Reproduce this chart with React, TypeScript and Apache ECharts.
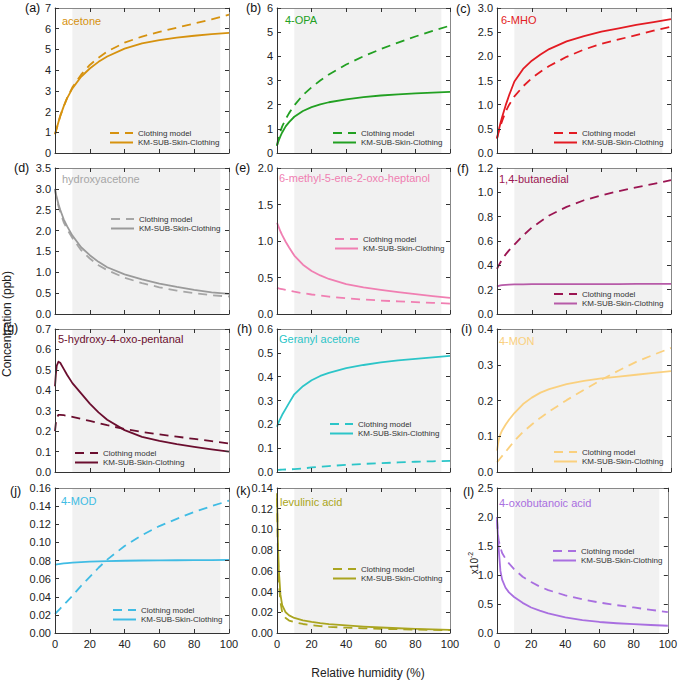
import React, { useEffect, useRef } from 'react';
import * as echarts from 'echarts';

// ---------------- DATA ----------------
const RH = [0, 0.5, 1, 2, 3, 5, 7, 10, 15, 20, 25, 30, 40, 50, 60, 70, 80, 90, 100];
const X_TICKS = [0, 20, 40, 60, 80, 100];
const SHADE_RH = [10, 95];

const COMPOUNDS = ['acetone', '4-OPA', '6-MHO', 'hydroxyacetone', '6-methyl-5-ene-2-oxo-heptanol', '1,4-butanedial',
  '5-hydroxy-4-oxo-pentanal', 'Geranyl acetone', '4-MON', '4-MOD', 'levulinic acid', '4-oxobutanoic acid'];
const LETTERS = ['(a)', '(b)', '(c)', '(d)', '(e)', '(f)', '(g)', '(h)', '(i)', '(j)', '(k)', '(l)'];
const SERIES_NAMES = ['Clothing model', 'KM-SUB-Skin-Clothing'];
const Y_MAX = [7, 6, 3, 3.5, 2, 1.2, 0.7, 0.6, 0.4, 0.16, 0.14, 2.5];
const Y_STEP = [1, 1, 0.5, 0.5, 0.5, 0.2, 0.1, 0.1, 0.1, 0.02, 0.02, 0.5];
const Y_DEC = [0, 0, 1, 1, 1, 1, 1, 1, 1, 2, 2, 1];

const acetoneClothing = [0.9, 1.05, 1.2, 1.5, 1.78, 2.25, 2.67, 3.17, 3.78, 4.25, 4.6, 4.9, 5.33, 5.62, 5.85, 6.05, 6.25, 6.45, 6.68];
const acetoneKM = [0.9, 1.05, 1.2, 1.5, 1.78, 2.25, 2.65, 3.12, 3.68, 4.08, 4.4, 4.66, 5.04, 5.29, 5.45, 5.57, 5.66, 5.74, 5.8];
const opaClothing = [0.3, 0.5, 0.65, 0.9, 1.1, 1.4, 1.65, 1.97, 2.4, 2.72, 3.0, 3.25, 3.66, 4.0, 4.3, 4.57, 4.82, 5.05, 5.27];
const opaKM = [0.3, 0.42, 0.52, 0.7, 0.85, 1.1, 1.28, 1.5, 1.74, 1.9, 2.01, 2.1, 2.22, 2.31, 2.38, 2.43, 2.47, 2.5, 2.53];
const mhoClothing = [0.3, 0.37, 0.44, 0.56, 0.67, 0.86, 1.0, 1.17, 1.38, 1.55, 1.68, 1.8, 1.99, 2.14, 2.26, 2.35, 2.44, 2.53, 2.61];
const mhoKM = [0.3, 0.39, 0.47, 0.62, 0.75, 0.99, 1.2, 1.48, 1.74, 1.91, 2.04, 2.15, 2.31, 2.42, 2.51, 2.58, 2.65, 2.71, 2.77];
const hydroxyClothing = [3.0, 2.85, 2.75, 2.58, 2.45, 2.2, 2.03, 1.82, 1.53, 1.33, 1.17, 1.05, 0.87, 0.74, 0.64, 0.56, 0.5, 0.45, 0.42];
const hydroxyKM = [3.0, 2.88, 2.8, 2.63, 2.5, 2.27, 2.1, 1.88, 1.6, 1.41, 1.25, 1.12, 0.95, 0.83, 0.73, 0.65, 0.58, 0.52, 0.48];
const methylClothing = [0.36, 0.355, 0.35, 0.345, 0.34, 0.33, 0.32, 0.305, 0.285, 0.267, 0.252, 0.238, 0.215, 0.198, 0.184, 0.173, 0.163, 0.153, 0.143];
const methylKM = [1.25, 1.22, 1.19, 1.13, 1.08, 0.99, 0.91, 0.8, 0.675, 0.59, 0.528, 0.48, 0.41, 0.365, 0.33, 0.3, 0.272, 0.245, 0.22];
const butanedialClothing = [0.37, 0.385, 0.4, 0.425, 0.45, 0.49, 0.525, 0.57, 0.645, 0.71, 0.76, 0.81, 0.88, 0.935, 0.975, 1.01, 1.04, 1.07, 1.1];
const butanedialKM = [0.225, 0.228, 0.231, 0.235, 0.237, 0.24, 0.241, 0.243, 0.244, 0.245, 0.245, 0.245, 0.246, 0.246, 0.246, 0.246, 0.247, 0.247, 0.247];
const hydroxyPentanalClothing = [0.2, 0.24, 0.265, 0.28, 0.28, 0.278, 0.275, 0.27, 0.26, 0.25, 0.24, 0.229, 0.21, 0.196, 0.184, 0.173, 0.162, 0.151, 0.14];
const hydroxyPentanalKM = [0.42, 0.48, 0.52, 0.54, 0.535, 0.505, 0.475, 0.435, 0.385, 0.335, 0.292, 0.256, 0.205, 0.172, 0.152, 0.136, 0.123, 0.111, 0.1];
const geranylClothing = [0.008, 0.0085, 0.009, 0.0095, 0.01, 0.0105, 0.011, 0.012, 0.015, 0.019, 0.022, 0.025, 0.03, 0.034, 0.037, 0.04, 0.043, 0.045, 0.047];
const geranylKM = [0.19, 0.2, 0.21, 0.225, 0.24, 0.265, 0.29, 0.326, 0.36, 0.385, 0.403, 0.416, 0.436, 0.449, 0.46, 0.468, 0.475, 0.481, 0.487];
const monClothing = [0.027, 0.03, 0.033, 0.039, 0.045, 0.057, 0.069, 0.087, 0.112, 0.133, 0.152, 0.169, 0.201, 0.23, 0.258, 0.284, 0.308, 0.328, 0.347];
const monKM = [0.06, 0.075, 0.09, 0.106, 0.117, 0.133, 0.147, 0.165, 0.19, 0.208, 0.222, 0.232, 0.246, 0.255, 0.262, 0.267, 0.272, 0.277, 0.282];
const modClothing = [0.021, 0.022, 0.023, 0.025, 0.027, 0.031, 0.035, 0.041, 0.052, 0.062, 0.072, 0.081, 0.096, 0.108, 0.118, 0.126, 0.1335, 0.14, 0.146];
const modKM = [0.0752, 0.0755, 0.0757, 0.076, 0.0763, 0.0768, 0.0772, 0.0777, 0.0783, 0.0787, 0.079, 0.0793, 0.0797, 0.08, 0.0802, 0.0803, 0.0804, 0.0805, 0.0806];
const levulinicClothing = [0.13, 0.08, 0.05, 0.03, 0.02, 0.0145, 0.012, 0.0105, 0.0087, 0.0075, 0.0067, 0.006, 0.0051, 0.0045, 0.004, 0.0037, 0.0033, 0.003, 0.0027];
const levulinicKM = [0.135, 0.09, 0.062, 0.037, 0.027, 0.02, 0.017, 0.0145, 0.0122, 0.0107, 0.0095, 0.0086, 0.0073, 0.0062, 0.0053, 0.0046, 0.004, 0.0035, 0.003];
const oxobutanoicClothing = [1.95, 1.72, 1.6, 1.47, 1.38, 1.28, 1.2, 1.1, 0.97, 0.88, 0.8, 0.74, 0.65, 0.58, 0.525, 0.48, 0.44, 0.4, 0.36];
const oxobutanoicKM = [2.0, 1.7, 1.45, 1.07, 0.92, 0.78, 0.7, 0.62, 0.52, 0.44, 0.385, 0.34, 0.27, 0.222, 0.19, 0.168, 0.152, 0.138, 0.125];

const CLOTHING = [acetoneClothing, opaClothing, mhoClothing, hydroxyClothing, methylClothing, butanedialClothing,
  hydroxyPentanalClothing, geranylClothing, monClothing, modClothing, levulinicClothing, oxobutanoicClothing];
const KMSUB = [acetoneKM, opaKM, mhoKM, hydroxyKM, methylKM, butanedialKM,
  hydroxyPentanalKM, geranylKM, monKM, modKM, levulinicKM, oxobutanoicKM];

// ---------------- LAYOUT / STYLE ----------------
const COL_LEFT = [55, 277, 497];
const COL_W = [174, 173, 174];
const ROW_TOP = [8, 168, 329, 488];
const ROW_H = [145, 146, 143, 145];
const COLORS = [
  { c: '#d6920f', k: '#d6920f', t: '#d6920f' },
  { c: '#22a022', k: '#22a022', t: '#22a022' },
  { c: '#e31b23', k: '#e31b23', t: '#e31b23' },
  { c: '#a6a6a6', k: '#9a9a9a', t: '#a6a6a6' },
  { c: '#f07fb2', k: '#f07fb2', t: '#f07fb2' },
  { c: '#9b1552', k: '#b75ba8', t: '#9b1552' },
  { c: '#6b0e2f', k: '#6b0e2f', t: '#6b0e2f' },
  { c: '#2cc5c8', k: '#2cc5c8', t: '#2cc5c8' },
  { c: '#fad07e', k: '#fad07e', t: '#fad07e' },
  { c: '#40bce4', k: '#40bce4', t: '#40bce4' },
  { c: '#aaa520', k: '#aaa520', t: '#aaa520' },
  { c: '#a96fe0', k: '#a96fe0', t: '#a96fe0' },
];
const LEGEND_POS = [[109, 133], [332, 133], [553, 133], [110, 219], [334, 239], [553, 294],
  [74, 453], [329, 424], [553, 452], [112, 610], [332, 569], [552, 551]];
const TITLE_POS = [[62, 21], [285, 20], [501, 20], [62, 179], [279, 178], [499, 179],
  [58, 339], [279, 339], [499, 341], [61, 501], [280, 502], [499, 503]];
const LETTER_POS = [[25, 8], [246, 8], [456, 9], [14, 168], [235, 168], [457, 169],
  [3, 328], [237, 329], [461, 329], [10, 491], [236, 491], [463, 492]];
const FONT = 'Liberation Sans';

function buildOption() {
  const grid: any[] = [];
  const xAxis: any[] = [];
  const yAxis: any[] = [];
  const series: any[] = [];
  const legend: any[] = [];
  const graphic: any[] = [];

  COMPOUNDS.forEach((name, i) => {
    const r = Math.floor(i / 3);
    const c = i % 3;
    grid.push({ left: COL_LEFT[c], top: ROW_TOP[r], width: COL_W[c], height: ROW_H[r], containLabel: false });
    const tickStyle = { inside: true, length: 4, lineStyle: { color: '#333', width: 1 } };
    xAxis.push({
      gridIndex: i, type: 'value', min: 0, max: 100, interval: X_TICKS[1] - X_TICKS[0], position: 'bottom', z: 3,
      axisLine: { show: true, onZero: false, lineStyle: { color: '#333', width: 1 } },
      axisTick: tickStyle, splitLine: { show: false },
      axisLabel: { show: r === 3, margin: 5, fontSize: 11, color: '#222', fontFamily: FONT },
    });
    xAxis.push({
      gridIndex: i, type: 'value', min: 0, max: 100, interval: X_TICKS[1] - X_TICKS[0], position: 'top', z: 3,
      axisLine: { show: true, onZero: false, lineStyle: { color: '#888', width: 1 } },
      axisTick: tickStyle, splitLine: { show: false }, axisLabel: { show: false },
    });
    const dec = Y_DEC[i];
    yAxis.push({
      gridIndex: i, type: 'value', min: 0, max: Y_MAX[i], interval: Y_STEP[i], position: 'left', z: 3,
      axisLine: { show: true, onZero: false, lineStyle: { color: '#333', width: 1 } },
      axisTick: tickStyle, splitLine: { show: false },
      axisLabel: { margin: 4, fontSize: 11, color: '#222', fontFamily: FONT, formatter: (v: number) => v.toFixed(dec) },
    });
    yAxis.push({
      gridIndex: i, type: 'value', min: 0, max: Y_MAX[i], interval: Y_STEP[i], position: 'right', z: 3,
      axisLine: { show: true, onZero: false, lineStyle: { color: '#888', width: 1 } },
      axisTick: tickStyle, splitLine: { show: false }, axisLabel: { show: false },
    });
    const col = COLORS[i];
    const nameC = `${i}:${SERIES_NAMES[0]}`;
    const nameK = `${i}:${SERIES_NAMES[1]}`;
    series.push({
      type: 'line', name: nameC, xAxisIndex: 2 * i, yAxisIndex: 2 * i,
      data: RH.map((x, j) => [x, CLOTHING[i][j]]),
      symbol: 'none', showSymbol: false, smooth: false, z: 2,
      lineStyle: { color: col.c, width: 1.8, type: [9, 6], join: 'round' }, itemStyle: { color: col.c },
    });
    series.push({
      type: 'line', name: nameK, xAxisIndex: 2 * i, yAxisIndex: 2 * i,
      data: RH.map((x, j) => [x, KMSUB[i][j]]),
      symbol: 'none', showSymbol: false, smooth: false, z: 2,
      lineStyle: { color: col.k, width: 1.8, type: 'solid', join: 'round' }, itemStyle: { color: col.k },
      markArea: {
        silent: true, itemStyle: { color: '#f1f1f1' },
        data: [[{ xAxis: SHADE_RH[0] }, { xAxis: SHADE_RH[1] }]],
      },
    });
    legend.push({
      data: [nameC, nameK], orient: 'vertical', left: LEGEND_POS[i][0], top: LEGEND_POS[i][1] - 4,
      itemWidth: 23, itemHeight: 8, itemGap: 1.5, padding: 0, selectedMode: false,
      itemStyle: { opacity: 0 },
      formatter: (n: string) => n.slice(n.indexOf(':') + 1),
      textStyle: { fontSize: 8, color: '#333', fontFamily: FONT, lineHeight: 8 },
    });
    graphic.push({
      type: 'text', x: TITLE_POS[i][0], y: TITLE_POS[i][1], z: 10,
      style: { text: name, fill: col.t, fontSize: 11, fontFamily: FONT, align: 'left', verticalAlign: 'middle' },
    });
    graphic.push({
      type: 'text', x: LETTER_POS[i][0], y: LETTER_POS[i][1], z: 10,
      style: { text: LETTERS[i], fill: '#111', fontSize: 12.5, fontFamily: FONT, align: 'left', verticalAlign: 'middle' },
    });
  });

  graphic.push({
    type: 'text', x: 7, y: 324, rotation: Math.PI / 2,
    style: { text: 'Concentration (ppb)', fill: '#222', fontSize: 12, fontFamily: FONT, align: 'center', verticalAlign: 'middle' },
  });
  graphic.push({
    type: 'text', x: 368, y: 673,
    style: { text: 'Relative humidity (%)', fill: '#222', fontSize: 12, fontFamily: FONT, align: 'center', verticalAlign: 'middle' },
  });
  graphic.push({
    type: 'text', x: 473, y: 563, rotation: Math.PI / 2,
    style: {
      text: '{a|x10}{b|-2}', fill: '#222', fontFamily: FONT, align: 'center', verticalAlign: 'middle',
      rich: {
        a: { fontSize: 10, fontFamily: FONT, fill: '#222', verticalAlign: 'bottom', lineHeight: 13 },
        b: { fontSize: 7, fontFamily: FONT, fill: '#222', verticalAlign: 'top', lineHeight: 13 },
      },
    },
  });

  return {
    animation: false,
    backgroundColor: '#ffffff',
    textStyle: { fontFamily: FONT },
    grid, xAxis, yAxis, series, legend, graphic,
  };
}

export default function App() {
  const ref = useRef<HTMLDivElement>(null);
  useEffect(() => {
    if (!ref.current) return;
    const chart = echarts.init(ref.current, undefined, { renderer: 'svg' });
    chart.setOption(buildOption() as any);
    return () => chart.dispose();
  }, []);
  return <div ref={ref} style={{ position: 'absolute', left: 0, top: 0, width: 680, height: 681 }} />;
}
